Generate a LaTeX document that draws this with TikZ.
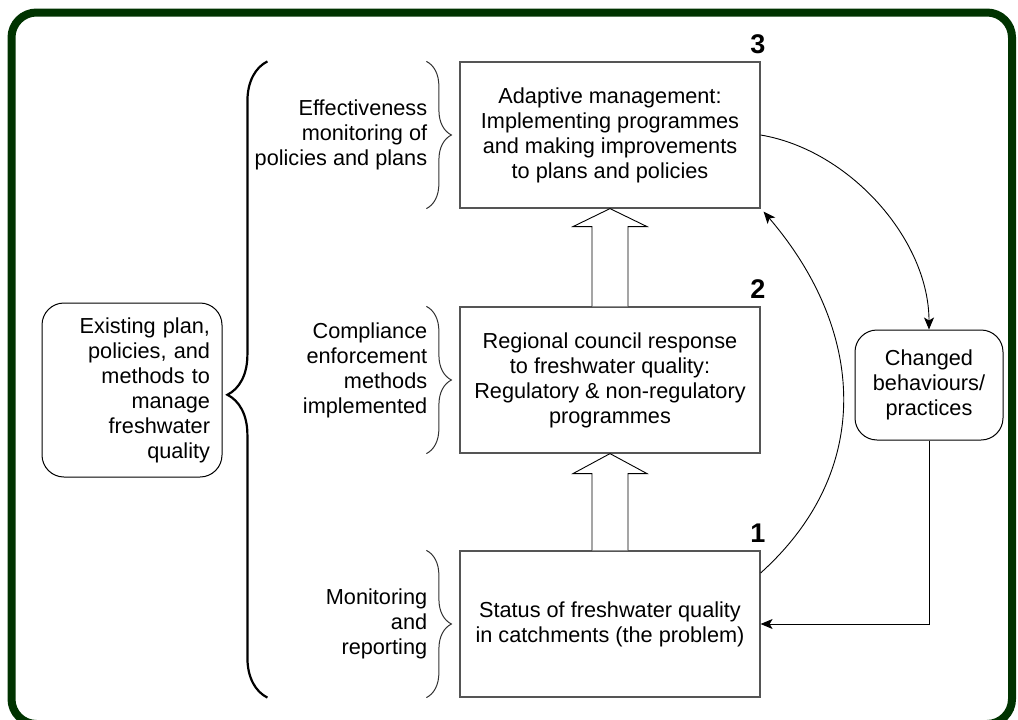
\documentclass[tikz,border=0pt]{standalone}
\usepackage{fontspec}
\setmainfont{Liberation Sans}
\usetikzlibrary{positioning,calc,arrows.meta,decorations.pathreplacing}
\definecolor{framegreen}{RGB}{0,51,0}
\definecolor{boxgray}{RGB}{85,85,85}

\begin{document}
\begin{tikzpicture}[x=1pt, y=-1pt, >={Stealth[length=12pt,width=10pt,inset=3pt]},
    every node/.style={font=\fontsize{21.7}{25}\selectfont},
    stage/.style={draw=boxgray, line width=1.2pt, minimum width=300pt, minimum height=146pt, align=center, inner sep=0pt},
    roundbox/.style={draw=black, line width=1pt, rounded corners=22pt},
    note/.style={align=right, inner sep=0pt},
    num/.style={font=\fontsize{27}{27}\selectfont\bfseries, anchor=base east, inner sep=0pt},
    hollow/.style={draw=black, fill=white, line width=0.9pt},
    smallbrace/.style={decorate, decoration={brace, amplitude=25pt}, draw=black!80, line width=1pt},
    bigbrace/.style={decorate, decoration={brace, amplitude=40pt, aspect=0.476}, draw=black, line width=2.2pt}]

    \useasboundingbox (0,0) rectangle (1018,720);

    % Frame
    \draw[framegreen, line width=8pt, rounded corners=25pt] (11.5,12.5) rectangle (1012,724);

    % Stages
    \node[stage] (b3) at (610,135) {Adaptive management:\\Implementing programmes\\and making improvements\\to plans and policies};
    \node[stage] (b2) at (610,380) {Regional council response\\to freshwater quality:\\Regulatory \& non-regulatory\\programmes};
    \node[stage] (b1) at (610,624) {Status of freshwater quality\\in catchments (the problem)};

    \node[num] (n3) at ($(b3.north east)+(5,-8)$) {3};
    \node[num] (n2) at ($(b2.north east)+(5,-8)$) {2};
    \node[num] (n1) at ($(b1.north east)+(5,-8)$) {1};

    % Side boxes
    \node[roundbox, minimum width=180pt, minimum height=174pt, text width=156pt, inner xsep=12pt, align=right] (plans) at (132,390) {Existing plan,\\policies, and\\methods to\\manage\\freshwater\\quality};
    \node[roundbox, minimum width=148pt, minimum height=110pt, align=center] (changed) at (929,385) {Changed\\behaviours/\\practices};

    % Labels
    \node[note, left=32pt of b3] (effect) {Effectiveness\\monitoring of\\policies and plans};
    \node[note, left=32pt of b2, yshift=10pt] (comply) {Compliance\\enforcement\\methods\\implemented};
    \node[note, left=32pt of b1] (monitor) {Monitoring\\and\\reporting};

    % Braces
    \draw[smallbrace] ($(b3.north west)+(-33,0)$) -- ($(b3.south west)+(-33,0)$);
    \draw[smallbrace] ($(b2.north west)+(-33,0)$) -- ($(b2.south west)+(-33,0)$);
    \draw[smallbrace] ($(b1.north west)+(-33,0)$) -- ($(b1.south west)+(-33,0)$);
    \draw[bigbrace] ($(b1.south west)+(-192,0)$) -- ($(b3.north west)+(-192,0)$);

    % Hollow arrows
    \draw[hollow] ($(b1.north)+(-18,0)$) -- ($(b2.south)+(-18,20)$) -- ($(b2.south)+(-37,20)$) -- (b2.south)
        -- ($(b2.south)+(37,20)$) -- ($(b2.south)+(18,20)$) -- ($(b1.north)+(18,0)$);
    \draw[hollow] ($(b2.north)+(-18,0)$) -- ($(b3.south)+(-18,18)$) -- ($(b3.south)+(-37,18)$) -- (b3.south)
        -- ($(b3.south)+(37,18)$) -- ($(b3.south)+(18,18)$) -- ($(b2.north)+(18,0)$);

    % Loop
    \draw[->, line width=0.9pt] (b3.east) .. controls (850,150) and (929,240) .. (changed.north);
    \draw[->, line width=0.9pt] (changed.south) |- (b1.east);
    \draw[->, line width=0.9pt] ($(b1.east)+(0,-51)$) .. controls (875,470) and (865,330) .. ($(b3.south east)+(3,3)$);

\end{tikzpicture}
\end{document}
